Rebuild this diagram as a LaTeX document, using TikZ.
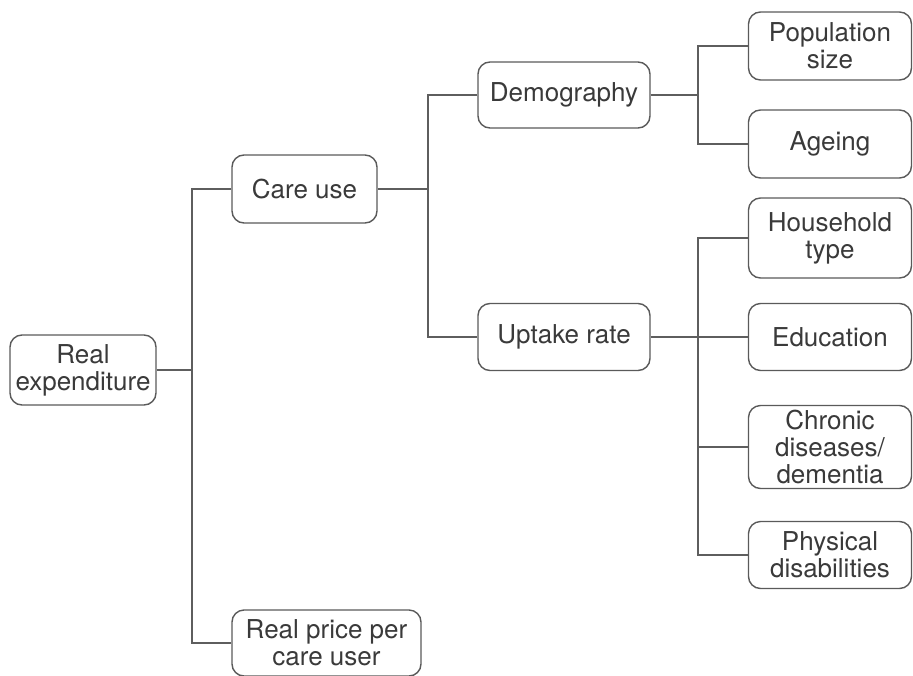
\documentclass[tikz,border=0pt]{standalone}
\usepackage{fontspec}
\setmainfont{TeX Gyre Heros}
\begin{document}
\begin{tikzpicture}[x=1pt,y=-1pt,
  box/.style={draw=boxline, line width=1.4pt, rounded corners=12pt, fill=white,
    text=labeltext, align=center, inner sep=0pt,
    font=\fontsize{26}{27}\selectfont},
  link/.style={draw=linkline, line width=1.6pt}]
\definecolor{boxline}{HTML}{5A5A5A}
\definecolor{linkline}{HTML}{5E5E5E}
\definecolor{labeltext}{HTML}{3A3A3A}
\useasboundingbox (0,0) rectangle (913,675);

% boxes
\node[box, minimum width=146pt, minimum height=70pt] (re) at (83,370) {Real\\expenditure};
\node[box, minimum width=145pt, minimum height=68pt] (care) at (304.5,189) {Care use};
\node[box, minimum width=189pt, minimum height=66pt] (price) at (326.5,643) {Real price per\\care user};
\node[box, minimum width=172pt, minimum height=66pt] (demo) at (564,95) {Demography};
\node[box, minimum width=172pt, minimum height=67pt] (uptake) at (564,337) {Uptake rate};
\node[box, minimum width=163pt, minimum height=68pt] (pop) at (830,46) {Population\\size};
\node[box, minimum width=163pt, minimum height=68pt] (age) at (830,144) {Ageing};
\node[box, minimum width=163pt, minimum height=80pt] (house) at (830,238) {Household\\type};
\node[box, minimum width=163pt, minimum height=67pt] (edu) at (830,337) {Education};
\node[box, minimum width=163pt, minimum height=83pt] (chronic) at (830,447) {Chronic\\diseases/\\dementia};
\node[box, minimum width=163pt, minimum height=67pt] (phys) at (830,555) {Physical\\disabilities};

% junction points of the tree
\coordinate (j1) at (192,370);
\coordinate (j2) at (428,189);
\coordinate (j3) at (698,95);
\coordinate (j4) at (698,337);

% connectors
\draw[link] (re.east) -- (j1);
\draw[link] (care.west) -| (j1) |- (price.west);
\draw[link] (care.east) -- (j2);
\draw[link] (demo.west) -| (j2) |- (uptake.west);
\draw[link] (demo.east) -- (j3);
\draw[link] (pop.west) -| (j3) |- (age.west);
\draw[link] (uptake.east) -- (edu.west);
\draw[link] (house.west) -| (j4) |- (phys.west);
\draw[link] (chronic.west) -- (chronic.west -| j4);
\end{tikzpicture}
\end{document}
